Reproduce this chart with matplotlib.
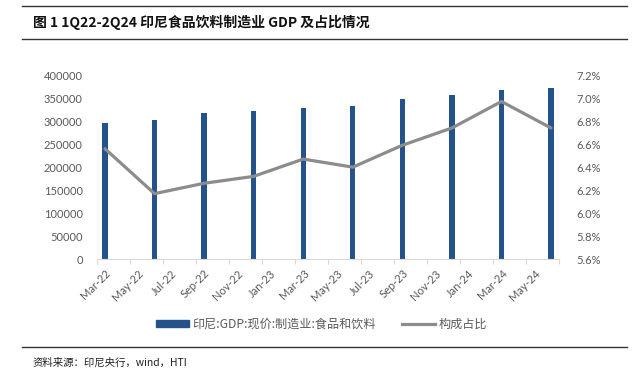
import matplotlib
matplotlib.use("Agg")
import matplotlib.pyplot as plt
from matplotlib.lines import Line2D
from matplotlib.patches import Patch
import numpy as np

# ---- data ----
quarters = ["Mar-22", "Jun-22", "Sep-22", "Dec-22", "Mar-23", "Jun-23",
            "Sep-23", "Dec-23", "Mar-24", "Jun-24"]
gdp_values = [295300, 301800, 317000, 322800, 327800, 333600,
              348100, 356700, 367500, 371900]
share_pct = [6.56, 6.17, 6.26, 6.32, 6.47, 6.40, 6.59, 6.74, 6.97, 6.74]
month_labels = ["Mar-22", "May-22", "Jul-22", "Sep-22", "Nov-22", "Jan-23",
                "Mar-23", "May-23", "Jul-23", "Sep-23", "Nov-23", "Jan-24",
                "Mar-24", "May-24"]
bar_name = "印尼:GDP:现价:制造业:食品和饮料"
line_name = "构成占比"
title = "图 1 1Q22-2Q24 印尼食品饮料制造业 GDP 及占比情况"
source = "资料来源：印尼央行，wind，HTI"

CJK = ["Noto Sans CJK SC", "DejaVu Sans"]
NUM = ["Lato", "Noto Sans CJK SC", "DejaVu Sans"]
plt.rcParams['font.family'] = NUM

W, H = 643, 370
fig = plt.figure(figsize=(W / 100, H / 100), dpi=100)

ax_l, ax_r = 96.7 / W, 559.3 / W
ax_b, ax_t = 1 - 259.3 / H, 1 - 75 / H
ax = fig.add_axes([ax_l, ax_b, ax_r - ax_l, ax_t - ax_b])
ax2 = ax.twinx()

n_months = 28
bar_x = np.arange(len(quarters)) * 3
blue = "#24538c"
gray_line = "#8c8c8c"
txt_gray = "#595959"

ax.bar(bar_x, gdp_values, width=0.32, color=blue, zorder=2)
ax2.plot(bar_x, share_pct, color=gray_line, lw=2.3, solid_joinstyle='round',
         solid_capstyle='round', zorder=3)

ax.set_xlim(-0.5, n_months - 0.5)
ax.set_ylim(0, 400000)
ax.set_yticks(np.arange(0, 400001, 50000))
ax.set_yticklabels([f"{v}" for v in range(0, 400001, 50000)])
ax2.set_ylim(5.6, 7.2)
ax2.set_yticks(np.arange(5.6, 7.21, 0.2))
ax2.set_yticklabels([f"{v:.1f}%" for v in np.arange(5.6, 7.21, 0.2)])

# x ticks: boundaries as tick marks, labels at month centers
ax.set_xticks(np.arange(-0.5, n_months, 2), minor=True)
ax.set_xticks(np.arange(0, 2 * len(month_labels), 2))
ax.set_xticklabels(month_labels, rotation=45, ha='right', va='top',
                   rotation_mode='anchor')
ax.tick_params(axis='x', which='major', length=0, pad=6, labelsize=8,
               labelcolor=txt_gray)
ax.tick_params(axis='x', which='minor', length=3.5, color="#d9d9d9", width=0.8)
ax.tick_params(axis='y', length=0, labelsize=8, labelcolor=txt_gray, pad=10)
ax2.tick_params(axis='y', length=0, labelsize=8, labelcolor=txt_gray, pad=12)

for a in (ax, ax2):
    for s in ("top", "left", "right"):
        a.spines[s].set_visible(False)
    a.spines["bottom"].set_color("#d9d9d9")
    a.spines["bottom"].set_linewidth(0.8)
ax2.spines["bottom"].set_visible(False)

# legend
handles = [Patch(facecolor=blue, edgecolor=blue),
           Line2D([0], [0], color=gray_line, lw=2.3)]
leg = fig.legend(handles, [bar_name, line_name], loc='center',
                 bbox_to_anchor=(0.5, 1 - 324 / H), ncol=2, frameon=False,
                 prop={'family': CJK, 'size': 8.7}, handlelength=2.7,
                 handleheight=0.5, columnspacing=2.2, handletextpad=0.3)
for t in leg.get_texts():
    t.set_color(txt_gray)

# title & frame lines
for y in (6, 39, 347):
    fig.add_artist(Line2D([22 / W, 627 / W], [1 - y / H, 1 - y / H],
                          color="#333333", lw=1.0))
fig.text(33 / W, 1 - 22.5 / H, title, fontsize=10, fontweight='bold',
         family=CJK, va='center', ha='left', color="#111111")
fig.text(33 / W, 1 - 363 / H, source, fontsize=7.5, family=CJK,
         va='center', ha='left', color="#222222")

fig.savefig("out.png", dpi=100)
